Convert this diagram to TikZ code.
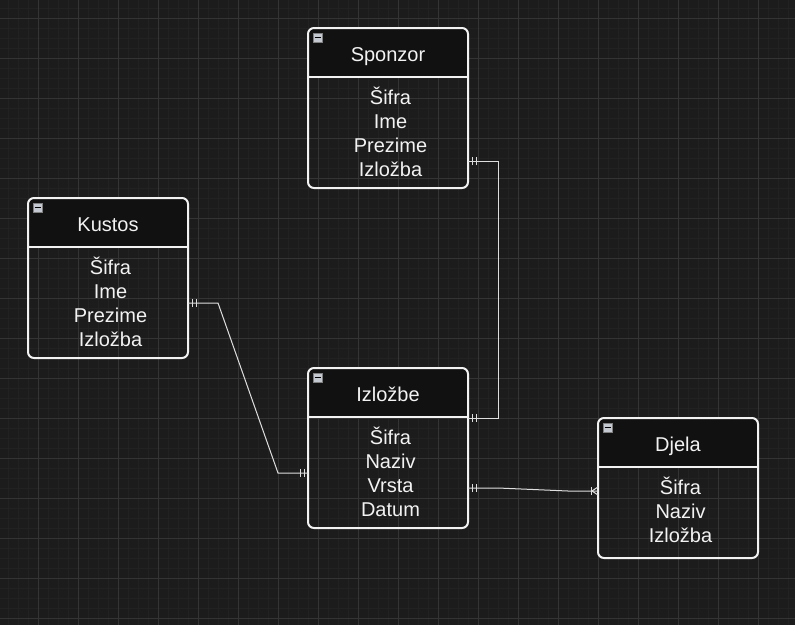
\documentclass[tikz,border=0pt]{standalone}
\usepackage{fontspec}
\setmainfont{Liberation Sans}
\usetikzlibrary{positioning, decorations.markings}

\definecolor{canvas}{HTML}{1C1C1C}
\definecolor{gridmajor}{HTML}{343434}
\definecolor{gridminor}{HTML}{222222}
\definecolor{headfill}{HTML}{111111}
\definecolor{edgeline}{HTML}{F2F2F2}
\definecolor{relline}{HTML}{DEDEDE}
\definecolor{iconfill}{HTML}{C4C8D0}

\tikzset{
  entity/.style={draw=edgeline, line width=2pt, rounded corners=6pt, minimum width=160pt,
    inner sep=0pt, outer sep=0pt,
    path picture={
      \fill[headfill] (path picture bounding box.north west) rectangle ([yshift=-49pt]path picture bounding box.north east);
      \draw[edgeline, line width=2pt] ([yshift=-49pt]path picture bounding box.north west) -- ([yshift=-49pt]path picture bounding box.north east);}},
  title/.style={text=edgeline, font=\fontsize{20}{24}\selectfont, inner sep=0pt, text height=14.3pt, text depth=0pt},
  fields/.style={text=edgeline, font=\fontsize{20}{24}\selectfont, align=center, inner sep=0pt},
  icon/.style={draw=gray, fill=iconfill, minimum size=9pt, inner sep=0pt, line width=0.6pt,
    path picture={\draw[black, line width=1.3pt] ([xshift=-3pt]path picture bounding box.center) -- ([xshift=3pt]path picture bounding box.center);}},
  rel/.style={draw=relline, line width=1pt},
  bar/.style={draw=relline, line width=1pt},
  oneone/.style={postaction={decorate, decoration={markings,
    mark=at position 4pt with {\draw[bar] (0,-4pt) -- (0,4pt);},
    mark=at position 8pt with {\draw[bar] (0,-4pt) -- (0,4pt);},
    mark=at position -4pt with {\draw[bar] (0,-4pt) -- (0,4pt);},
    mark=at position -8pt with {\draw[bar] (0,-4pt) -- (0,4pt);}}}},
  onemany/.style={postaction={decorate, decoration={markings,
    mark=at position 4pt with {\draw[bar] (0,-4pt) -- (0,4pt);},
    mark=at position 8pt with {\draw[bar] (0,-4pt) -- (0,4pt);},
    mark=at position -7pt with {\draw[bar] (0,-4pt) -- (0,4pt);},
    mark=at position -6pt with {\draw[bar] (0,0) -- (6pt,4pt) (0,0) -- (6pt,-4pt);}}}}
}

\begin{document}
\begin{tikzpicture}[x=1pt, y=-1pt]
  \useasboundingbox (0,0) rectangle (795,625);
  % Canvas and grid
  \fill[canvas] (0,0) rectangle (795,625);
  \foreach \x in {-2,8,...,798} \draw[gridminor, line width=1pt] (\x,0) -- (\x,625);
  \foreach \y in {-2,8,...,628} \draw[gridminor, line width=1pt] (0,\y) -- (795,\y);
  \foreach \x in {38,78,...,798} \draw[gridmajor, line width=1pt] (\x,0) -- (\x,625);
  \foreach \y in {18,58,...,618} \draw[gridmajor, line width=1pt] (0,\y) -- (795,\y);

  % Entities
  \node[entity, minimum height=160pt] (sponzor) at (388,108) {};
  \node[title] (sponzor-title) at ([yshift=-26pt]sponzor.north) {Sponzor};
  \node[fields] (sponzor-fields) at ([xshift=2.5pt,yshift=-103.9pt]sponzor.north) {Šifra\\Ime\\Prezime\\Izložba};
  \node[icon] (sponzor-icon) at ([xshift=9.5pt,yshift=-9.5pt]sponzor.north west) {};

  \node[entity, minimum height=160pt] (kustos) at (108,278) {};
  \node[title] (kustos-title) at ([yshift=-26pt]kustos.north) {Kustos};
  \node[fields] (kustos-fields) at ([xshift=2.5pt,yshift=-103.9pt]kustos.north) {Šifra\\Ime\\Prezime\\Izložba};
  \node[icon] (kustos-icon) at ([xshift=9.5pt,yshift=-9.5pt]kustos.north west) {};

  \node[entity, minimum height=160pt] (izlozbe) at (388,448) {};
  \node[title] (izlozbe-title) at ([yshift=-26pt]izlozbe.north) {Izložbe};
  \node[fields] (izlozbe-fields) at ([xshift=2.5pt,yshift=-103.9pt]izlozbe.north) {Šifra\\Naziv\\Vrsta\\Datum};
  \node[icon] (izlozbe-icon) at ([xshift=9.5pt,yshift=-9.5pt]izlozbe.north west) {};

  \node[entity, minimum height=140pt] (djela) at (678,488) {};
  \node[title] (djela-title) at ([yshift=-26pt]djela.north) {Djela};
  \node[fields] (djela-fields) at ([xshift=2.5pt,yshift=-91.9pt]djela.north) {Šifra\\Naziv\\Izložba};
  \node[icon] (djela-icon) at ([xshift=9.5pt,yshift=-9.5pt]djela.north west) {};

  % Relationships
  \draw[rel, oneone] ([yshift=-53pt]sponzor.east) -- ++(30,0) |- ([yshift=30pt]izlozbe.east);
  \draw[rel, oneone] ([yshift=-25pt]kustos.east) -- ++(30,0) -- ([xshift=-30pt,yshift=-25pt]izlozbe.west) -- ([yshift=-25pt]izlozbe.west);
  \draw[rel, onemany] ([yshift=-40pt]izlozbe.east) -- ++(30,0) -- ([xshift=-30pt,yshift=-3pt]djela.west) -- ([yshift=-3pt]djela.west);
\end{tikzpicture}
\end{document}
